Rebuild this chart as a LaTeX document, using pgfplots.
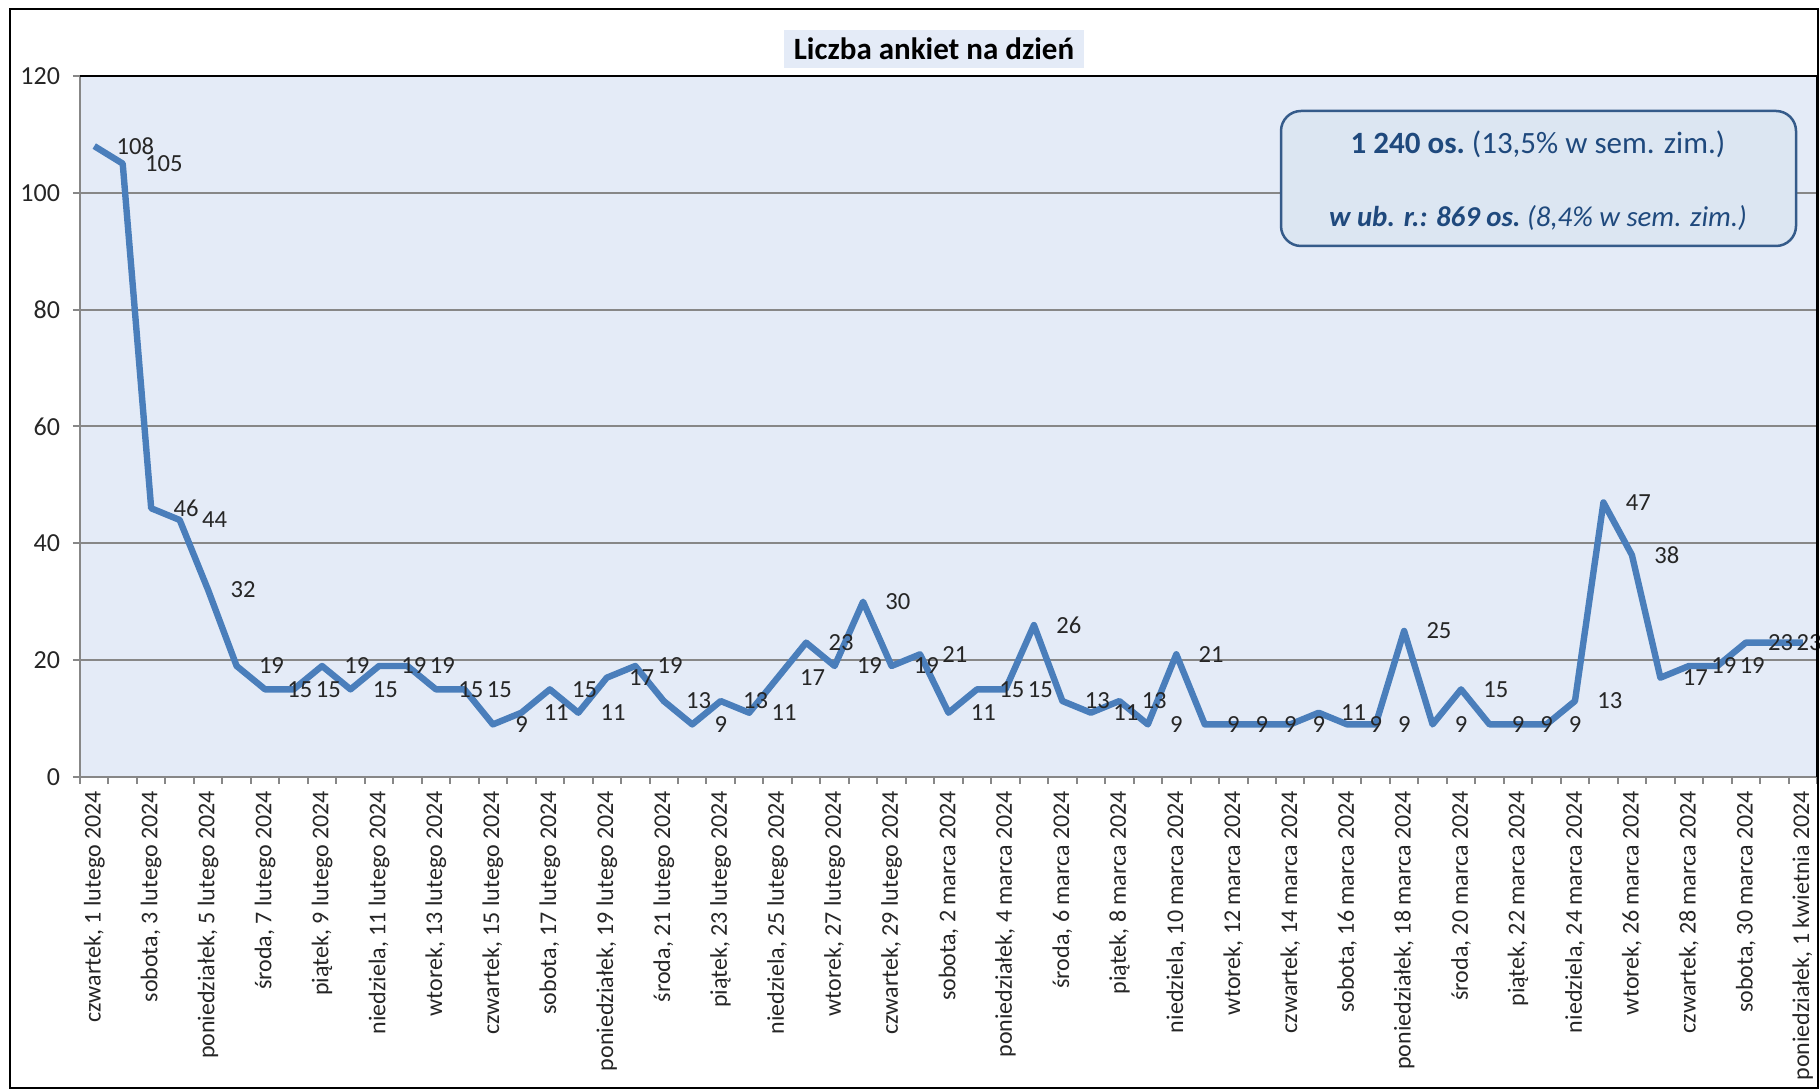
\documentclass[border=0pt]{standalone}
\usepackage{fontspec}
\setmainfont{Carlito}
\usepackage{pgfplots}
\pgfplotsset{compat=1.18}
\usepackage{pgfplotstable}

\definecolor{plotbg}{HTML}{E4EBF7}
\definecolor{boxbg}{HTML}{DCE6F2}
\definecolor{series}{HTML}{4A7EBB}
\definecolor{darkblue}{HTML}{1F497D}
\definecolor{gridgray}{HTML}{878787}

% day 0 = 1 lutego 2024, day 60 = 1 kwietnia 2024
\pgfplotstableread{
day n
0 108
1 105
2 46
3 44
4 32
5 19
6 15
7 15
8 19
9 15
10 19
11 19
12 15
13 15
14 9
15 11
16 15
17 11
18 17
19 19
20 13
21 9
22 13
23 11
24 17
25 23
26 19
27 30
28 19
29 21
30 11
31 15
32 15
33 26
34 13
35 11
36 13
37 9
38 21
39 9
40 9
41 9
42 9
43 11
44 9
45 9
46 25
47 9
48 15
49 9
50 9
51 9
52 13
53 47
54 38
55 17
56 19
57 19
58 23
59 23
60 23
}\ankiety

\begin{document}
\begin{tikzpicture}
\path[use as bounding box] (0pt,0pt) rectangle (910pt,545pt);
\begin{axis}[
    name=ax,
    at={(40pt,156.5pt)}, anchor=south west,
    scale only axis, width=868.5pt, height=350.5pt,
    xmin=-0.5, xmax=60.5, ymin=0, ymax=120,
    clip=false,
    axis x line=bottom, axis y line=left,
    axis line style={-, gridgray, line width=1pt},
    axis background/.style={fill=plotbg},
    ytick={0,20,...,120},
    ymajorgrids,
    major grid style={gridgray, line width=1pt},
    xtick={0,2,...,60},
    xticklabels={{czwartek, 1 lutego 2024},{sobota, 3 lutego 2024},{poniedziałek, 5 lutego 2024},{środa, 7 lutego 2024},{piątek, 9 lutego 2024},{niedziela, 11 lutego 2024},{wtorek, 13 lutego 2024},{czwartek, 15 lutego 2024},{sobota, 17 lutego 2024},{poniedziałek, 19 lutego 2024},{środa, 21 lutego 2024},{piątek, 23 lutego 2024},{niedziela, 25 lutego 2024},{wtorek, 27 lutego 2024},{czwartek, 29 lutego 2024},{sobota, 2 marca 2024},{poniedziałek, 4 marca 2024},{środa, 6 marca 2024},{piątek, 8 marca 2024},{niedziela, 10 marca 2024},{wtorek, 12 marca 2024},{czwartek, 14 marca 2024},{sobota, 16 marca 2024},{poniedziałek, 18 marca 2024},{środa, 20 marca 2024},{piątek, 22 marca 2024},{niedziela, 24 marca 2024},{wtorek, 26 marca 2024},{czwartek, 28 marca 2024},{sobota, 30 marca 2024},{poniedziałek, 1 kwietnia 2024}},
    minor xtick={-0.5,0.5,...,60.5},
    tick align=outside,
    major tick length=3.5pt, minor tick length=3.5pt,
    major x tick style={draw=none},
    minor x tick style={gridgray, line width=1pt},
    y tick style={gridgray, line width=1pt},
    x tick label style={rotate=90, anchor=east, font=\fontsize{12}{14}\selectfont, text=black!85},
    y tick label style={font=\fontsize{13}{15}\selectfont, text=black!85, xshift=-3pt},
    /pgf/number format/assume math mode=true,
]
\addplot[series, line width=3.2pt, line join=round, mark=none] table[x=day, y=n] {\ankiety};
\addplot[draw=none, mark=none, forget plot,
    nodes near coords,
    nodes near coords style={anchor=west, inner sep=0pt, xshift=11pt,
        font=\fontsize{12.3}{14}\selectfont, text=black!85},
    skip coords between index={60}{61}] table[x=day, y=n] {\ankiety};
\end{axis}
\draw[black, line width=1.2pt] (ax.north west) -- (ax.north east) -- (ax.south east);
\draw[black, line width=1pt] (5pt,1pt) rectangle (909pt,540.5pt);
\node[fill=plotbg, font=\bfseries\fontsize{15.5}{18}\selectfont, inner xsep=5pt, inner ysep=4pt] at (467pt,520.5pt) {Liczba ankiet na dzień};
\draw[darkblue!90, fill=boxbg, rounded corners=10pt, line width=1.25pt] (640.5pt,422pt) rectangle (898pt,489.5pt);
\node[text=darkblue, font=\fontsize{15.5}{18}\selectfont] at (769pt,473pt) {\textbf{1~240 os.}\ (13,5\% w sem. zim.)};
\node[text=darkblue, font=\itshape\fontsize{14.4}{17}\selectfont] at (769pt,436pt) {\textbf{w ub. r.: 869 os.}\ (8,4\% w sem. zim.)};
\end{tikzpicture}
\end{document}
